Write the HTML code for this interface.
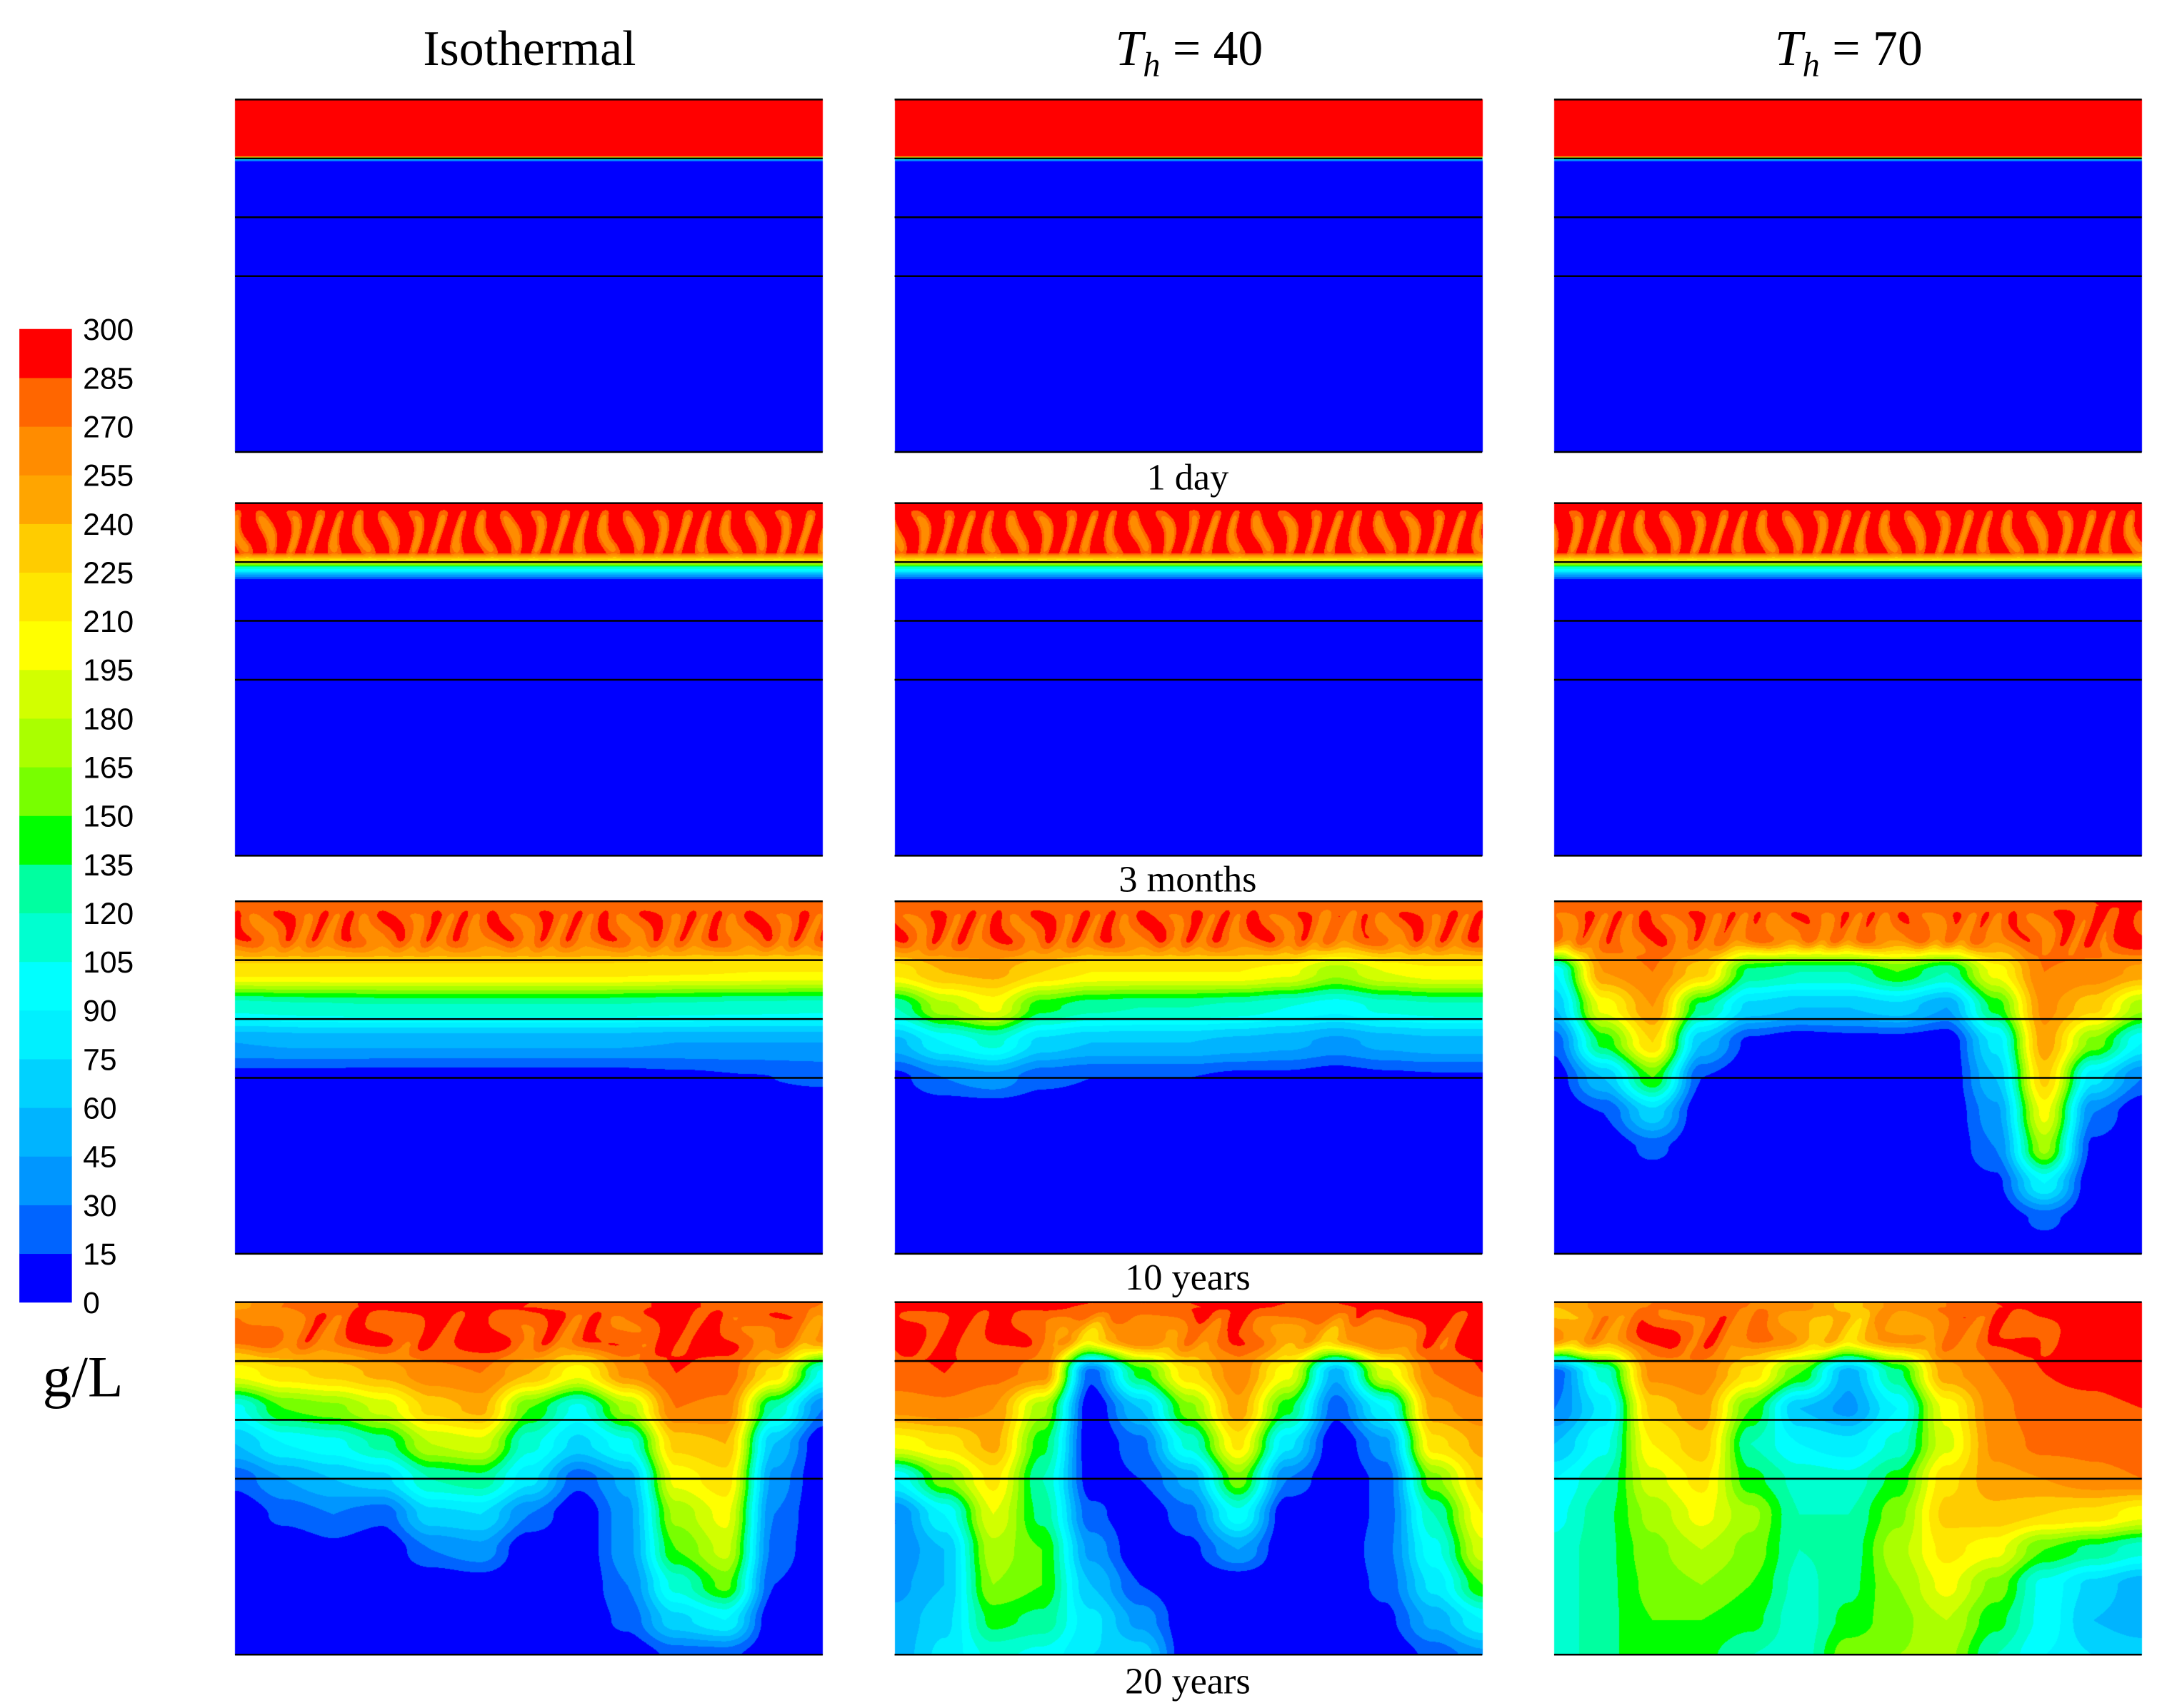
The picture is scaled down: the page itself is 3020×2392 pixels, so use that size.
<!DOCTYPE html>
<html><head><meta charset="utf-8">
<style>
html,body{margin:0;padding:0;background:#fff}
#wrap{position:relative;width:3020px;height:2392px;overflow:hidden}
#cv{position:absolute;left:0;top:0}
#ov{position:absolute;left:0;top:0}
</style></head>
<body>
<div id="wrap">
<canvas id="cv" width="3020" height="2392"></canvas>
<svg id="ov" width="3020" height="2392" viewBox="0 0 1560 1235.6"></svg>
</div>
<script>
// ---- data ----
const levels = [0,15,30,45,60,75,90,105,120,135,150,165,180,195,210,225,240,255,270,285,300];
const bandColors = ['#0000ff','#0064ff','#0096ff','#00b4ff','#00d2ff','#00f0ff','#00ffff','#00ffd0','#00ffa0','#00ff00','#78ff00','#aaff00','#d2ff00','#ffff00','#ffe600','#ffcc00','#ffa500','#ff8c00','#ff6600','#ff0000'];
const colTitles = ['Isothermal','40','70'];
const timeLabels = ['1 day','3 months','10 years','20 years'];
const prof1Depth = [0,0.16,0.165,0.172,0.178,1];
const prof1Val = [300,300,150,40,0,0];
const prof2Depth = [0,0.14,0.165,0.18,0.2,0.22,1];
const prof2Val = [292,288,200,120,50,0,0];
const g10iso = [
[280,276,215,110,45,8,0,0,0,0,0],[280,276,215,115,48,8,0,0,0,0,0],[280,276,215,118,48,6,0,0,0,0,0],
[280,276,215,118,48,6,0,0,0,0,0],[280,276,215,118,48,6,0,0,0,0,0],[280,276,215,118,48,6,0,0,0,0,0],
[280,276,212,115,45,10,0,0,0,0,0],[280,276,210,112,45,14,0,0,0,0,0],[280,276,210,110,45,18,0,0,0,0,0]];
const g10t40 = [
[280,278,215,120,55,10,0,0,0,0,0],[280,278,240,175,90,30,0,0,0,0,0],[280,278,245,200,110,40,0,0,0,0,0],
[280,278,225,140,70,20,0,0,0,0,0],[280,278,210,125,60,15,0,0,0,0,0],[280,278,210,120,60,15,0,0,0,0,0],
[280,278,210,120,60,15,0,0,0,0,0],[280,278,210,115,55,10,0,0,0,0,0],[280,278,200,105,50,10,0,0,0,0,0],
[275,270,170,95,40,5,0,0,0,0,0],[278,275,195,110,50,10,0,0,0,0,0],[280,278,205,115,55,12,0,0,0,0,0],
[280,278,205,115,55,12,0,0,0,0,0]];
const g10t70 = [
[280,270,90,60,20,5,0,0,0,0,0],[280,275,255,200,140,60,15,0,0,0,0],[280,278,270,255,225,150,70,20,0,0,0],
[280,275,230,130,60,15,0,0,0,0,0],[280,270,130,70,10,0,0,0,0,0,0],[280,270,120,60,0,0,0,0,0,0,0],
[280,272,120,60,5,0,0,0,0,0,0],[280,270,150,70,5,0,0,0,0,0,0],[280,270,120,45,0,0,0,0,0,0,0],
[280,272,200,140,80,60,40,30,10,0,0],[280,275,270,260,250,230,200,170,90,20,0],[285,280,265,230,160,80,30,10,0,0,0],
[290,290,250,170,90,30,0,0,0,0,0]];
const g20iso = [
[250,270,200,100,60,20,0,0,0,0,0],[270,275,220,150,90,45,20,0,0,0,0],[280,275,230,160,100,60,30,10,0,0,0],
[290,280,245,185,125,70,20,0,0,0,0],[290,285,265,230,180,120,70,30,0,0,0],[290,290,270,245,190,130,75,40,5,0,0],
[285,280,240,150,110,80,30,0,0,0,0],[280,275,200,100,70,20,0,0,0,0,0],[280,280,260,170,100,50,40,40,30,20,0],
[290,290,285,270,230,200,170,150,110,70,20],[280,285,280,265,240,220,200,185,155,90,20],[280,275,220,120,60,40,30,25,15,0,0],
[270,250,100,30,0,0,0,0,0,0,0]];
const g20t40 = [
[290,285,280,260,200,90,30,30,40,50,50],[290,290,285,265,215,160,90,60,60,70,80],[290,280,275,255,245,215,195,175,165,140,110],
[290,275,265,170,140,120,130,150,150,130,100],[285,225,20,0,0,5,20,40,60,80,75],[285,260,140,60,25,15,0,0,15,40,70],
[285,265,220,160,110,50,25,10,0,0,0],[290,275,265,250,215,160,100,45,0,0,0],[285,255,200,140,80,30,0,0,0,0,0],
[285,240,50,20,0,0,0,0,0,0,0],[290,270,190,90,40,20,20,25,20,10,0],[290,280,270,250,220,160,120,100,80,50,20],
[290,290,285,265,245,230,210,190,150,90,40]];
const g20t70 = [
[240,250,20,30,60,90,100,110,110,110,110],[260,260,110,80,100,120,130,130,130,130,130],[270,280,260,230,210,190,170,160,155,150,150],
[280,280,265,250,235,215,200,180,165,150,140],[270,265,220,150,120,140,170,160,150,140,120],[260,250,150,60,90,115,120,120,115,110,110],
[235,230,50,40,80,110,120,125,130,140,160],[260,250,130,90,110,140,160,175,165,160,165],[270,270,250,200,190,220,230,215,200,180,170],
[285,275,270,265,260,250,235,200,160,140,120],[290,290,285,280,275,255,225,150,100,100,90],[300,300,290,280,275,265,220,130,70,60,75],
[300,300,300,285,280,270,200,110,50,50,70]];
const fingerAmp = [0,30,12,12];
const fingerCount = [0,24,16,10];

const S = 3020/1560;
const colX = [170,647,1124], PW = 425;
const rowY = [72,364,652,942], PH = 255;

function interp1(ds,vs,y){for(let i=0;i<ds.length-1;i++){if(y<=ds[i+1]){const t=(y-ds[i])/(ds[i+1]-ds[i]);return vs[i]+t*(vs[i+1]-vs[i]);}}return vs[vs.length-1];}
function interp2(g,x,y){const nx=g.length-1,ny=g[0].length-1;let fx=x*nx,fy=y*ny;let i=Math.min(nx-1,Math.floor(fx)),j=Math.min(ny-1,Math.floor(fy));let tx=fx-i,ty=fy-j;
tx=tx*tx*(3-2*tx);ty=ty*ty*(3-2*ty);
const a=g[i][j]*(1-ty)+g[i][j+1]*ty,b=g[i+1][j]*(1-ty)+g[i+1][j+1]*ty;return a*(1-tx)+b*tx;}
function hex(c){return [parseInt(c.substr(1,2),16),parseInt(c.substr(3,2),16),parseInt(c.substr(5,2),16)];}
const rgb=bandColors.map(hex);
function colorOf(v){let b=Math.floor(v/15);if(b<0)b=0;if(b>19)b=19;return rgb[b];}

const cv=document.getElementById('cv');const ctx=cv.getContext('2d');
ctx.fillStyle='#fff';ctx.fillRect(0,0,3020,2392);
const grids=[[null,null,null],[null,null,null],[g10iso,g10t40,g10t70],[g20iso,g20t40,g20t70]];
for(let r=0;r<4;r++)for(let c=0;c<3;c++){
 const x0=Math.round(colX[c]*S),y0=Math.round(rowY[r]*S),w=Math.round(PW*S),h=Math.round(PH*S);
 const img=ctx.createImageData(w,h);
 for(let py=0;py<h;py++){const y=py/h;for(let px=0;px<w;px++){const x=px/w;let v;
  if(r===0)v=interp1(prof1Depth,prof1Val,y);
  else if(r===1)v=interp1(prof2Depth,prof2Val,y);
  else v=interp2(grids[r][c],x,y);
  if(r>0&&y>0.012&&y<0.16){const taper=Math.min(1,(0.16-y)/0.04)*Math.min(1,(y-0.012)/0.03);
   const s=Math.sin(2*Math.PI*fingerCount[r]*x+c*1.7+Math.sin(y*25+x*30+c)*1.6);
   if(r===1)v+=-taper*fingerAmp[1]*Math.max(0,s+0.1*Math.sin(x*90+y*40));
   else v+=taper*fingerAmp[r]*s;}
  const col=colorOf(v);const k=(py*w+px)*4;img.data[k]=col[0];img.data[k+1]=col[1];img.data[k+2]=col[2];img.data[k+3]=255;}}
 ctx.putImageData(img,x0,y0);
}
const NS='http://www.w3.org/2000/svg';const ov=document.getElementById('ov');
function el(tag,attrs,parent){const e=document.createElementNS(NS,tag);for(const k in attrs)e.setAttribute(k,attrs[k]);(parent||ov).appendChild(e);return e;}
for(let r=0;r<4;r++)for(let c=0;c<3;c++){
 const g=el('g',{});
 
 
 [0,0.167,0.334,0.501,1].forEach(f=>{const yy=rowY[r]+f*PH;const l=el('line',{x1:colX[c],x2:colX[c]+PW,y1:yy,y2:yy,stroke:'#000','stroke-width':1.3},g);
 
 });
}
const tx=[383,860,1337];
for(let c=0;c<3;c++){
 const t=el('text',{x:tx[c],y:47,'text-anchor':'middle','font-family':'Liberation Serif, serif','font-size':36});
 
 
 if(c===0)t.textContent=colTitles[0];
 else{const a=el('tspan',{'font-style':'italic'},t);a.textContent='T';const b=el('tspan',{'font-style':'italic','font-size':25,dy:8},t);b.textContent='h';const d=el('tspan',{dy:-8},t);d.textContent=' = '+colTitles[c];}
}
const ty=[354,645,933,1225];
timeLabels.forEach((s,i)=>{const t=el('text',{x:859,y:ty[i],'text-anchor':'middle','font-family':'Liberation Serif, serif','font-size':27});
 
 
 t.textContent=s;});
const cbTop=238,cbBot=942,cbH=(cbBot-cbTop)/20;
const cb=el('g',{});


for(let i=0;i<20;i++){
 const rc=el('rect',{x:14,y:cbBot-(i+1)*cbH,width:38,height:cbH+0.3,fill:bandColors[i]},cb);
 
 }
levels.forEach((v,i)=>{const t=el('text',{x:60,y:cbBot-i*cbH+8,'font-family':'Liberation Sans, sans-serif','font-size':22},cb);
 
 
 t.textContent=v;});
const u=el('text',{x:60,y:1010,'text-anchor':'middle','font-family':'Liberation Serif, serif','font-size':42});


u.textContent='g/L';
</script>
</body></html>
